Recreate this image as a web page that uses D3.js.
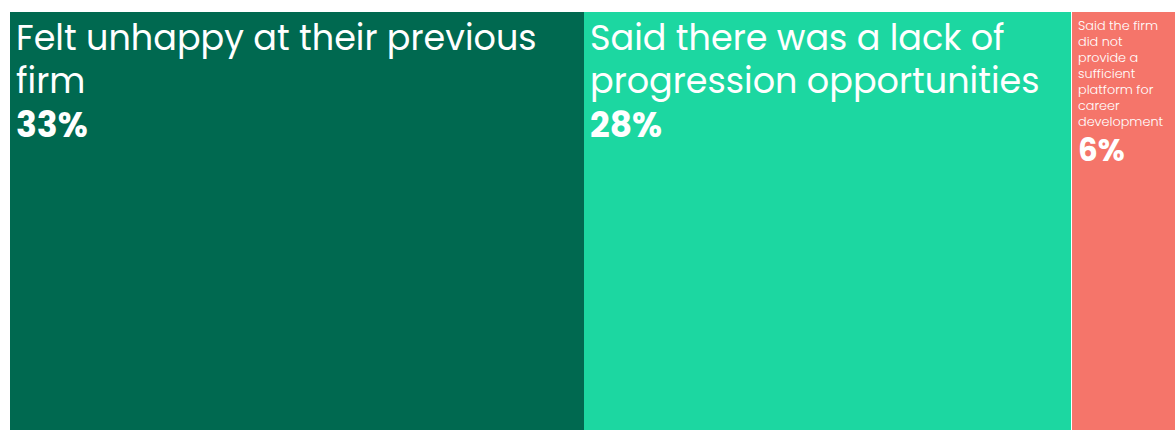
<!DOCTYPE html>
<html>
<head>
<meta charset="utf-8">
<script src="https://cdn.jsdelivr.net/npm/d3@7"></script>
<style>
  body { margin: 0; background: #fff; overflow: hidden; }
  text { font-family: Poppins, "Open Sans", sans-serif; fill: #fff; }
</style>
</head>
<body>
<div id="chart"></div>
<script>
// reasons for leaving, share of respondents
const labels = [
  'Felt unhappy at their previous firm',
  'Said there was a lack of progression opportunities',
  'Said the firm did not provide a sufficient platform for career development'
]
const values = [33, 28, 6]
const colours = ['#006950', '#1cd7a1', '#f5756a']

const W = 1175, H = 430
const margin = { top: 12, left: 10, right: 0, bottom: 0 }

const svg = d3.select('#chart').append('svg')
  .attr('width', W)
  .attr('height', H)

const root = d3.hierarchy({ children: labels.map((l, i) => ({ label: l, value: values[i], colour: colours[i] })) })
  .sum(d => d.value || 0)

d3.treemap()
  .tile(d3.treemapDice)
  .size([W - margin.left - margin.right, H - margin.top - margin.bottom])
  .round(true)(root)

const g = svg.append('g')
  .attr('transform', 'translate(' + margin.left + ',' + margin.top + ')')

const cell = g.selectAll('g.cell')
  .data(root.leaves())
  .join('g')
  .attr('class', 'cell')
  .attr('transform', d => 'translate(' + d.x0 + ',' + d.y0 + ')')

cell.append('rect')
  .attr('width', d => d.x1 - d.x0)
  .attr('height', d => d.y1 - d.y0)
  .attr('fill', d => d.data.colour)

// thin white seam in front of the little box
cell.filter(d => d.x1 - d.x0 < 200)
  .append('rect')
  .attr('width', 1)
  .attr('height', d => d.y1 - d.y0)
  .attr('fill', '#fff')

// big boxes get big type, the narrow one gets small type
cell.each(function (d) {
  const w = d.x1 - d.x0
  const small = w < 200
  const fs = small ? 12.8 : 35
  const lh = small ? 16 : 43
  const pad = small ? 7 : 6
  const t = d3.select(this).append('text')
    .attr('font-size', fs)
    .attr('font-weight', small ? 300 : 400)
  // word wrap against the box width
  const words = d.data.label.split(' ')
  let line = []
  let lines = []
  const probe = t.append('tspan')
  words.forEach(wd => {
    line.push(wd)
    probe.text(line.join(' '))
    if (probe.node().getComputedTextLength() > w - pad * 2 && line.length > 1) {
      line.pop()
      lines.push(line.join(' '))
      line = [wd]
    }
  })
  lines.push(line.join(' '))
  probe.remove()
  const y0 = small ? 18 : 38
  lines.forEach((l, i) => {
    t.append('tspan')
      .attr('x', pad)
      .attr('y', y0 + i * lh)
      .text(l)
  })
  const lastY = y0 + (lines.length - 1) * lh
  d3.select(this).append('text')
    .attr('x', pad)
    .attr('y', lastY + (small ? 35 : 44))
    .attr('font-size', small ? 31 : 34.5)
    .attr('font-weight', 700)
    .text(d.data.value + '%')
})
</script>
</body>
</html>
